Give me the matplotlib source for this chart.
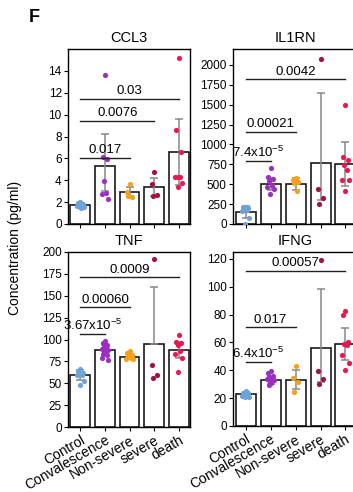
import matplotlib
matplotlib.use('Agg')
import matplotlib.pyplot as plt
import numpy as np

plt.rcParams['font.family'] = ['Liberation Sans', 'DejaVu Sans']
plt.rcParams['mathtext.fontset'] = 'custom'
plt.rcParams['mathtext.rm'] = 'Liberation Sans'
plt.rcParams['mathtext.default'] = 'regular'

groups = ['Control', 'Convalescence', 'Non-severe', 'severe', 'death']
colors = ['#6fa3d8', '#9b30c0', '#f7a11a', '#a3123f', '#e8194f']

# CCL3
ccl3_pts = [[2.0, 1.9, 1.8, 1.75, 1.7, 1.65, 1.6, 1.55, 1.5],
            [13.6, 6.1, 5.95, 3.9, 2.85, 2.7, 2.25],
            [3.65, 2.95, 2.5, 2.55],
            [4.74, 3.62, 2.64, 2.58],
            [15.17, 8.57, 6.6, 4.3, 4.3, 4.3, 3.77, 3.34]]
ccl3_mean = [1.73, 5.32, 2.92, 3.4, 6.6]
ccl3_lo = [0.2, 2.3, 0.45, 0.82, 3.03]
ccl3_hi = [0.2, 2.95, 0.45, 0.82, 3.03]
ccl3_sig = [(2, 6.05, '0.017'), (3, 9.45, '0.0076'), (4, 11.46, '0.03')]

# IL1RN
il1rn_pts = [[215, 210, 200, 190, 180, 165, 75, 5],
             [704, 592, 571, 537, 487, 467, 437, 375],
             [579, 558, 529, 517, 417],
             [2079, 437, 321, 250],
             [1496, 842, 800, 737, 683, 558, 550, 412]]
il1rn_mean = [146, 508, 508, 771, 758]
il1rn_lo = [75, 75, 75, 471, 279]
il1rn_hi = [75, 75, 75, 871, 279]
il1rn_sig = [(1, 792, '7.4x10$^{-5}$'), (2, 1162, '0.00021'), (4, 1821, '0.0042')]

# TNF
tnf_pts = [[66, 64, 62, 61, 60, 59, 53, 48],
           [98, 96, 94, 92, 90, 89, 88, 87, 86, 84, 82, 79, 77],
           [87, 85, 82, 80.5, 78.5, 78, 77.4],
           [192, 70.9, 60, 55.5],
           [105, 97.7, 96.5, 93.9, 87, 84, 78.5, 63]]
tnf_mean = [59.4, 88, 80.5, 94.6, 88]
tnf_lo = [5.8, 5.5, 3, 0, 9]
tnf_hi = [5.8, 5.5, 3, 65, 9]
tnf_sig = [(1, 106, '3.67x10$^{-5}$'), (2, 136.8, '0.00060'), (4, 171, '0.0009')]

# IFNG
ifng_pts = [[25.2, 24, 23.5, 22.8, 22.3, 21.8, 21.1, 20.5],
            [39.6, 37.9, 36, 35, 34.3, 33.5, 33, 31.9, 30.7, 29.5],
            [43.2, 34.8, 31.9, 24.7],
            [119.4, 39.6, 33.8, 30],
            [82.3, 79.4, 60, 59, 58.3, 51, 45, 40.3]]
ifng_mean = [22.8, 33.1, 33.1, 55.9, 59]
ifng_lo = [1.5, 3, 6.8, 24, 11.7]
ifng_hi = [1.5, 3, 6.8, 42.7, 11.7]
ifng_sig = [(1, 45.8, '6.4x10$^{-5}$'), (2, 71, '0.017'), (4, 111.5, '0.00057')]

jit = [0, -0.1, 0.1, -0.05, 0.05, -0.14, 0.14, -0.02, 0.02, -0.08, 0.08, -0.12, 0.12]


def panel(ax, title, pts, mean, lo, hi, sig, ylim, yticks, xlabels):
    x = np.arange(len(groups))
    ax.bar(x, mean, width=0.8, color='white', edgecolor='#1a1a1a', linewidth=1.2, zorder=1)
    ax.errorbar(x, mean, yerr=[lo, hi], fmt='none', ecolor='#888888', elinewidth=1.1,
                capsize=3, capthick=1.1, zorder=2)
    for i, vals in enumerate(pts):
        off = np.array(jit[:len(vals)])
        ax.scatter(i + off, vals, s=14, color=colors[i], zorder=3, linewidths=0)
    for j, y, lab in sig:
        ax.plot([0, j], [y, y], color='#222222', lw=1, zorder=4)
        ax.annotate(lab, (j / 2, y), xytext=(0, 1), textcoords='offset points',
                    ha='center', va='bottom', fontsize=9.5)
    ax.set_title(title, fontsize=10.5, pad=5)
    ax.set_ylim(*ylim)
    ax.set_yticks(yticks)
    ax.set_xticks(x)
    ax.tick_params(axis='both', labelsize=8.5, length=3, width=0.8, pad=1.5)
    if xlabels:
        ax.set_xticklabels(groups, rotation=30, ha='right', rotation_mode='anchor', fontsize=10)
    else:
        ax.set_xticklabels([])
    for s in ax.spines.values():
        s.set_linewidth(1)


fig = plt.figure(figsize=(3.53, 4.92), dpi=100)
W, H = 353, 492


def add_ax(left, top, bottom, right):
    return fig.add_axes([left / W, 1 - bottom / H, (right - left) / W, (bottom - top) / H])


ax1 = add_ax(68, 49, 224, 190)
ax1.set_xlim(-0.5, 4.45)
panel(ax1, 'CCL3', ccl3_pts, ccl3_mean, ccl3_lo, ccl3_hi, ccl3_sig, (0, 16), range(0, 15, 2), False)

ax2 = add_ax(233, 49, 224, 358)
ax2.set_xlim(-0.5, 4.5)
panel(ax2, 'IL1RN', il1rn_pts, il1rn_mean, il1rn_lo, il1rn_hi, il1rn_sig, (0, 2200),
      range(0, 2001, 250), False)

ax3 = add_ax(68, 252, 427, 190)
ax3.set_xlim(-0.5, 4.45)
panel(ax3, 'TNF', tnf_pts, tnf_mean, tnf_lo, tnf_hi, tnf_sig, (0, 200), range(0, 201, 25), True)

ax4 = add_ax(233, 252, 426, 358)
ax4.set_xlim(-0.5, 4.5)
panel(ax4, 'IFNG', ifng_pts, ifng_mean, ifng_lo, ifng_hi, ifng_sig, (0, 125), range(0, 121, 20), True)

fig.text(34 / W, 1 - 17 / H, 'F', fontsize=13, fontweight='bold', ha='center', va='center')
fig.text(15 / W, 1 - 248 / H, 'Concentration (pg/ml)', fontsize=10, rotation=90,
         ha='center', va='center')

fig.savefig('out.png', dpi=100)
